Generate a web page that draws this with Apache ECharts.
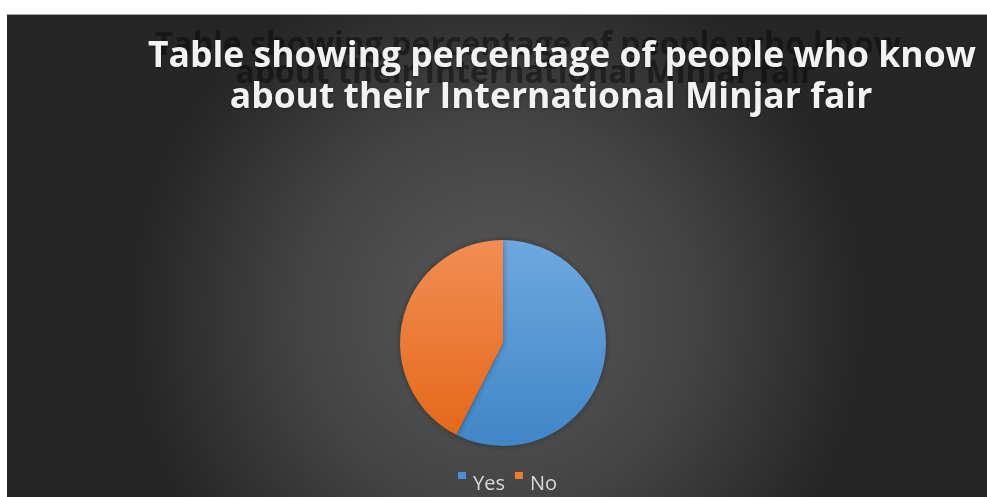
<!DOCTYPE html>
<html>
<head>
<meta charset="utf-8">
<script src="https://cdn.jsdelivr.net/npm/echarts@6/dist/echarts.min.js"></script>
<style>
html,body{margin:0;padding:0;background:#fff;width:987px;height:497px;overflow:hidden;}
#chart{position:absolute;left:7px;top:14px;width:980px;height:483px;border-top:1px solid #a0a0a0;}
</style>
</head>
<body>
<div id="chart"></div>
<script>
const titleLines = ["Table showing percentage of people who know", "about their International Minjar fair"];
const categories = ["Yes", "No"];
const values = [57.5, 42.5];

const sliceColors = [
  {type:'linear', x:0, y:0, x2:0, y2:1, colorStops:[{offset:0,color:'#6fa8de'},{offset:1,color:'#3f86c8'}]},
  {type:'linear', x:0, y:0, x2:0, y2:1, colorStops:[{offset:0,color:'#f28d55'},{offset:1,color:'#e4691a'}]}
];
const legendColors = ['#4a90d9', '#ed7d31'];

const ghostStyle = {color:'rgba(0,0,0,0.42)', fontFamily:'Open Sans', fontWeight:'bold', fontSize:32, lineHeight:34};
const mainStyle = {color:'#f2f2f2', fontFamily:'Open Sans', fontWeight:'bold', fontSize:35.5, lineHeight:40,
  textShadowColor:'rgba(0,0,0,0.4)', textShadowBlur:3, textShadowOffsetY:1};

const chart = echarts.init(document.getElementById('chart'), null, {renderer:'canvas'});
chart.setOption({
  backgroundColor: {
    type:'radial', x:0.5, y:0.62, r:0.75,
    colorStops:[{offset:0,color:'#595959'},{offset:0.55,color:'#434343'},{offset:1,color:'#262626'}]
  },
  title: [
    {text: titleLines[0], left: 516, top: 9, textAlign:'center', textStyle: ghostStyle},
    {text: titleLines[1], left: 513, top: 37, textAlign:'center', textStyle: ghostStyle},
    {text: titleLines[0], left: 550, top: 17, textAlign:'center', textStyle: mainStyle},
    {text: titleLines[1], left: 539, top: 58, textAlign:'center', textStyle: mainStyle}
  ],
  legend: {
    data: categories.map((c,i)=>({name:c, itemStyle:{color:legendColors[i]}})),
    left: 451, top: 442,
    padding: 0,
    itemWidth: 8, itemHeight: 7, itemGap: 10,
    icon: 'rect',
    formatter: '{t|{name}}',
    textStyle: {
      rich: {t: {color:'#d9d9d9', fontFamily:'Open Sans', fontSize:20, lineHeight:24, padding:[17,0,0,2]}}
    },
    selectedMode: false
  },
  series: [{
    type: 'pie',
    center: [496, 328],
    radius: 103,
    startAngle: 90,
    clockwise: true,
    label: {show:false},
    labelLine: {show:false},
    emphasis: {disabled:true},
    itemStyle: {borderWidth:0, shadowColor:'rgba(0,0,0,0.35)', shadowBlur:6},
    data: categories.map((c,i)=>({name:c, value:values[i], itemStyle:{color:sliceColors[i]}}))
  }]
});
</script>
</body>
</html>
